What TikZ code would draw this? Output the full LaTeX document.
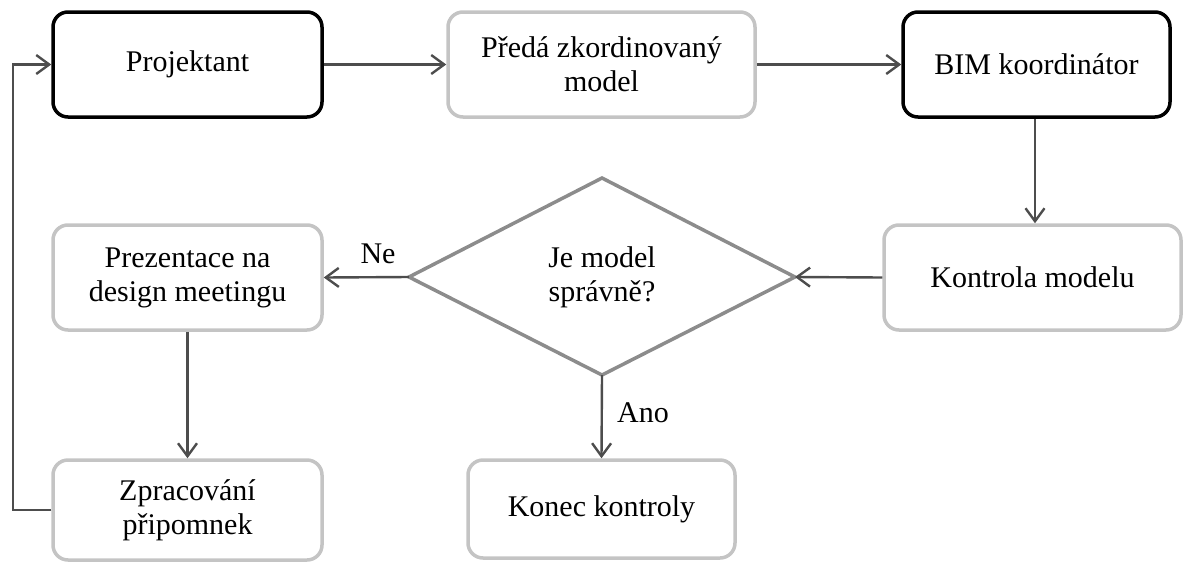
\documentclass[tikz,border=0pt]{standalone}
\usepackage{fontspec}
\setmainfont{Liberation Serif}
\usetikzlibrary{arrows.meta}
\definecolor{linegray}{HTML}{4D4D4D}
\definecolor{boxgray}{HTML}{C4C4C4}
\definecolor{diagray}{HTML}{8C8C8C}
\begin{document}
\begin{tikzpicture}[x=1pt,y=-1pt,
  txt/.style={font=\fontsize{30}{34}\selectfont, align=center, text=black},
  box/.style={txt, rounded corners=15pt, line width=3.5pt, inner sep=0pt},
  blackbox/.style={box, draw=black},
  graybox/.style={box, draw=boxgray},
  arr/.style={draw=linegray, line width=2.4pt, -{Straight Barb[length=13pt,width=19pt]}}
]
\useasboundingbox (0,0) rectangle (1184,563);

\node[blackbox, minimum width=269pt, minimum height=105pt] (proj) at (187.5,64.5) {Projektant};
\node[graybox, minimum width=307pt, minimum height=105pt] (preda) at (601.5,64.5) {Předá zkordinovaný\\model};
\node[blackbox, minimum width=267pt, minimum height=105pt] (bim) at (1036.5,64.5) {BIM koordinátor};
\node[graybox, minimum width=297pt, minimum height=105pt] (kontr) at (1032.5,277.5) {Kontrola modelu};
\node[graybox, minimum width=269pt, minimum height=105pt] (prez) at (187.5,277.5) {Prezentace na\\design meetingu};
\node[graybox, minimum width=269pt, minimum height=100pt] (zprac) at (187.5,510) {Zpracování\\připomnek};
\node[graybox, minimum width=267pt, minimum height=98pt] (konec) at (601.5,509) {Konec kontroly};

% decision diamond
\coordinate (dL) at (409,277);
\coordinate (dT) at (602,178);
\coordinate (dR) at (795,277);
\coordinate (dB) at (602,375);
\draw[draw=diagray, line width=3.5pt, line join=miter] (dL) -- (dT) -- (dR) -- (dB) -- cycle;
\node[txt] (dec) at (602,277) {Je model\\správně?};

% connectors
\draw[arr] (proj.east) -- (preda.west);
\draw[arr] (preda.east) -- (bim.west);
\coordinate (bs) at ([xshift=-1.5pt]bim.south);
\draw[arr] (bs) -- (bs |- kontr.north);
\draw[arr] (kontr.west) -- (dR);
\draw[arr] (dL) -- (prez.east);
\draw[arr] (dB) -- (konec.north);
\draw[arr] (prez.south) -- (zprac.north);
\coordinate (fb) at (13,64.5);
\draw[arr] (zprac.west) -| (fb) -- (proj.west);

% labels
\node[txt] (ne) at (378,254) {Ne};
\node[txt] (ano) at (643,413) {Ano};
\end{tikzpicture}
\end{document}
